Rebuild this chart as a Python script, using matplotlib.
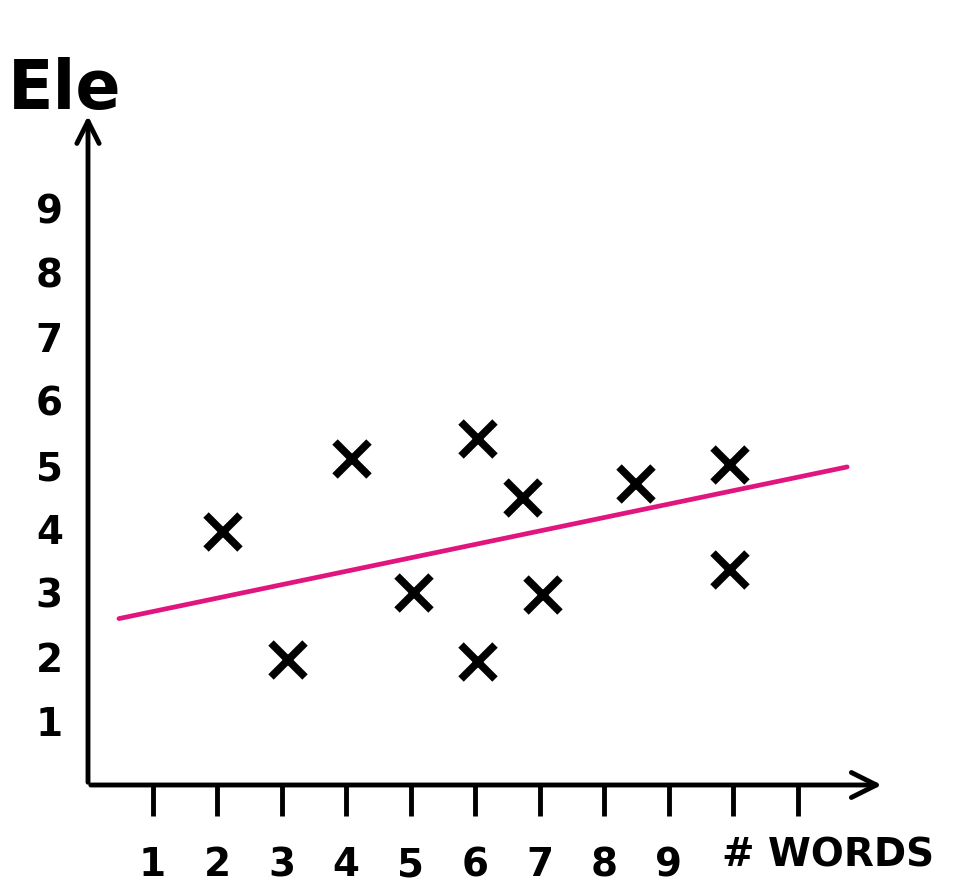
"""Hand-drawn style scatter: Ele vs # WORDS, with a pink trend line."""
import matplotlib
matplotlib.use('Agg')
import matplotlib.pyplot as plt

# data
words = [2.1, 3.1, 4.1, 5.05, 6.05, 6.05, 6.75, 7.05, 8.5, 9.95, 9.95]
ele = [3.95, 1.95, 5.1, 3.0, 5.4, 1.92, 4.48, 2.97, 4.7, 5.0, 3.36]
trend_x = [0.48, 11.77]
trend_y = [2.6, 4.97]
x_ticks = [1, 2, 3, 4, 5, 6, 7, 8, 9, 10, 11]
x_tick_labels = ['1', '2', '3', '4', '5', '6', '7', '8', '9', '', '']
y_ticks = [1, 2, 3, 4, 5, 6, 7, 8, 9]
y_tick_labels = ['1', '2', '3', '4', '5', '6', '7', '8', '9']

PINK = '#E0157E'
FONT = 'DejaVu Sans'

fig = plt.figure(figsize=(9.6, 8.96), dpi=100)
ax = fig.add_axes([88 / 960, 111 / 896, 12.4 * 64.5 / 960, 10.6 * 64 / 896])
ax.set_xlim(0, 12.4)
ax.set_ylim(0, 10.6)

for s in ax.spines.values():
    s.set_visible(False)

# axes drawn as arrows
ax.annotate('', xy=(12.35, 0), xytext=(0, 0),
            arrowprops=dict(arrowstyle='->', lw=3.5, color='black', mutation_scale=45),
            annotation_clip=False)
ax.annotate('', xy=(0, 10.5), xytext=(0, 0),
            arrowprops=dict(arrowstyle='->', lw=3.5, color='black', mutation_scale=40),
            annotation_clip=False)

ax.plot(trend_x, trend_y, color=PINK, lw=3.4, solid_capstyle='round', zorder=2)
ax.plot(words, ele, linestyle='none', marker='x', markersize=24,
        markeredgewidth=5.5, color='black', zorder=3)

ax.set_xticks(x_ticks)
ax.set_xticklabels(x_tick_labels)
ax.set_yticks(y_ticks)
ax.set_yticklabels(y_tick_labels)
ax.tick_params(axis='x', direction='out', length=22, width=3.5, pad=22,
               labelsize=28)
ax.tick_params(axis='y', length=0, pad=18, labelsize=28)
for lab in ax.get_xticklabels() + ax.get_yticklabels():
    lab.set_fontfamily(FONT)
    lab.set_fontweight('bold')

fig.text(722 / 960, 1 - 855 / 896, '# WORDS', fontsize=28, fontweight='bold',
         family=FONT, ha='left', va='center')
fig.text(8 / 960, 1 - 90 / 896, 'Ele', fontsize=48, fontweight='bold',
         family=FONT, ha='left', va='center')

fig.savefig('out.png', dpi=100, facecolor='white')
